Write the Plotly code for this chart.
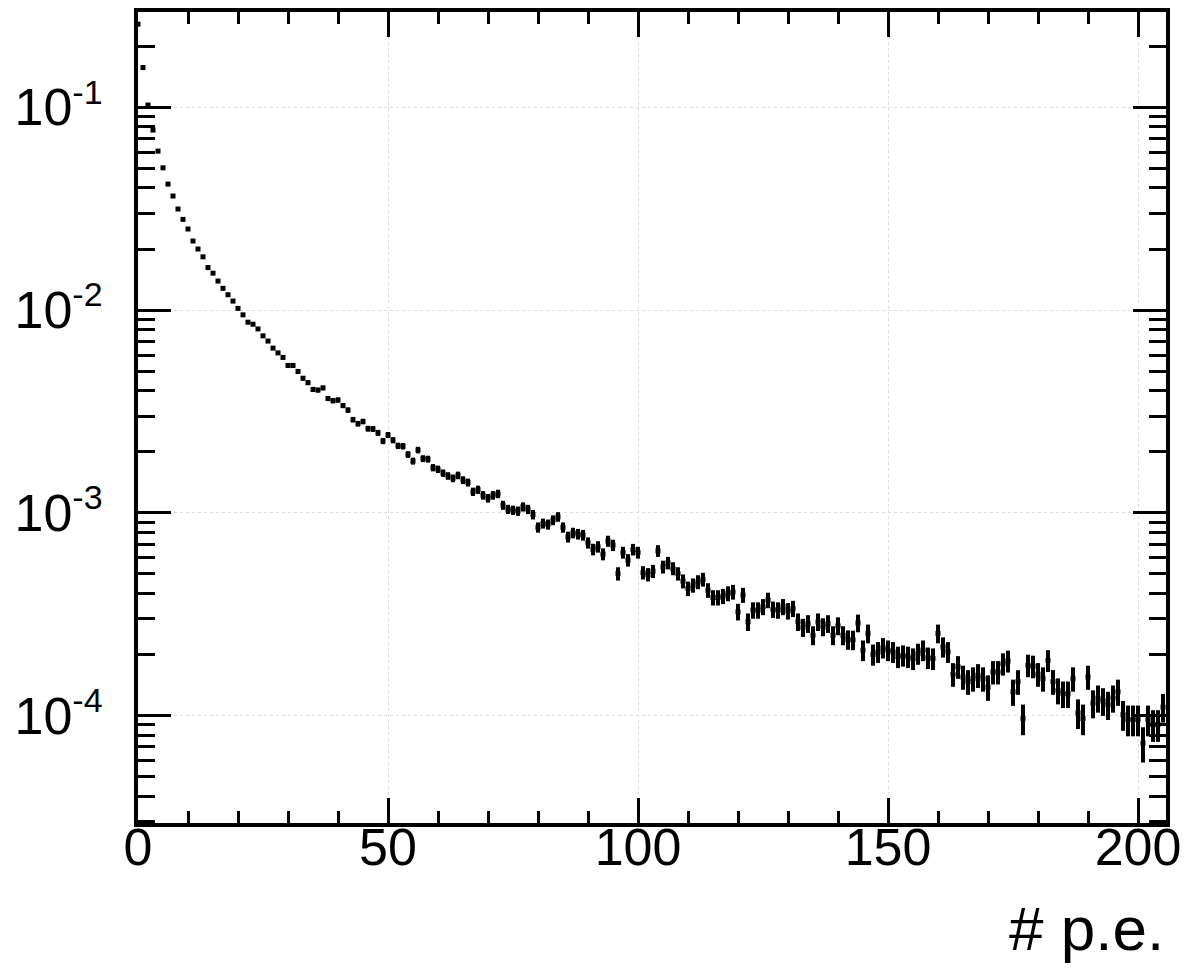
import numpy as np
import plotly.graph_objects as go

# Photo-electron spectrum, normalised histogram (bins of 1 p.e., centred on integers)
pe_bins = list(range(0, 206))
fraction = [
    0.257, 0.157, 0.1026, 0.0772, 0.0608, 0.0503, 0.0418, 0.0365, 0.0315, 0.0280,
    0.0251, 0.0219, 0.0200, 0.0183, 0.0162, 0.0152, 0.0139, 0.0128, 0.0119, 0.01107,
    0.01019, 0.00947, 0.00871, 0.00851, 0.00807, 0.00746, 0.00703, 0.00649, 0.00615, 0.00584,
    0.00533, 0.00533, 0.00498, 0.00461, 0.00438, 0.00406, 0.00403, 0.00413, 0.00366, 0.00357,
    0.00360, 0.00338, 0.00321, 0.00288, 0.00275, 0.00282, 0.00260, 0.00259, 0.00248, 0.00226,
    0.00242, 0.00228, 0.00214, 0.00213, 0.00194, 0.00180, 0.00204, 0.00185, 0.00184, 0.00167,
    0.00164, 0.00157, 0.00152, 0.00148, 0.00153, 0.00145, 0.00141, 0.00127, 0.00130, 0.00122,
    0.00118, 0.00122, 0.00124, 0.00109, 0.00104, 0.00103, 0.00102, 0.00107, 0.00104, 0.00098,
    0.000847, 0.000886, 0.000876, 0.000920, 0.000955, 0.000847, 0.000760, 0.000796, 0.000785, 0.000776,
    0.000711, 0.000660, 0.000680, 0.000625, 0.000725, 0.000692, 0.000501, 0.000637, 0.000584, 0.000659,
    0.000637, 0.000507, 0.000496, 0.000515, 0.000649, 0.000541, 0.000566, 0.000531, 0.000501, 0.000460,
    0.000423, 0.000439, 0.000456, 0.000469, 0.000415, 0.000382, 0.000382, 0.000388, 0.000400, 0.000407,
    0.000325, 0.000393, 0.000290, 0.000331, 0.000331, 0.000344, 0.000371, 0.000334, 0.000331, 0.000344,
    0.000328, 0.000337, 0.000290, 0.000272, 0.000284, 0.000249, 0.000290, 0.000274, 0.000284, 0.000249,
    0.000277, 0.000249, 0.000237, 0.000236, 0.000286, 0.000210, 0.000254, 0.000200, 0.000206, 0.000216,
    0.000210, 0.000206, 0.000195, 0.000198, 0.000195, 0.000191, 0.000202, 0.000210, 0.000193, 0.000191,
    0.000254, 0.000218, 0.000206, 0.000160, 0.000174, 0.000155, 0.000147, 0.000152, 0.000158, 0.000152,
    0.000138, 0.000164, 0.000164, 0.000180, 0.000186, 0.000131, 0.000147, 0.0000966, 0.000177, 0.000175,
    0.000160, 0.000152, 0.000187, 0.000147, 0.000133, 0.000128, 0.000128, 0.000152, 0.000103, 0.0000966,
    0.000155, 0.000115, 0.000122, 0.000118, 0.000113, 0.000122, 0.000131, 0.000101, 0.0000955, 0.0000955,
    0.0000955, 0.0000731, 0.0000955, 0.0000902, 0.0000902, 0.000110,
]

# total number of entries used for the normalisation -> Poisson errors per bin
n_entries = 3.5e5
frac = np.array(fraction)
frac_err = np.sqrt(frac / n_entries)

x_ticks = [0, 50, 100, 150, 200]
y_ticks = [1e-4, 1e-3, 1e-2, 1e-1]
y_exponents = ["-4", "-3", "-2", "-1"]
y_ticktext = ['10<sup><span style="font-size:34px">%s</span></sup>' % e for e in y_exponents]

FONT = "Liberation Sans, Arial, Helvetica, sans-serif"
LABEL_SIZE = 52

fig = go.Figure()
fig.add_trace(go.Scatter(
    x=pe_bins, y=fraction, mode="markers",
    marker=dict(symbol="square", size=5, color="black", line=dict(width=0)),
    error_y=dict(type="data", array=frac_err, visible=True, width=0, thickness=4, color="black"),
    showlegend=False,
))

fig.update_layout(
    width=1184, height=968,
    margin=dict(l=138, r=18, t=12, b=145, pad=0),
    paper_bgcolor="white", plot_bgcolor="white",
    font=dict(family=FONT, size=LABEL_SIZE, color="black"),
    xaxis=dict(
        range=[0, 205.6], tickvals=x_ticks, ticktext=[str(v) for v in x_ticks],
        showline=True, linewidth=4, linecolor="black", mirror="allticks",
        ticks="inside", ticklen=25, tickwidth=3, tickcolor="black",
        minor=dict(dtick=10, tick0=0, ticks="inside", ticklen=12, tickwidth=3, tickcolor="black", showgrid=False),
        showgrid=True, gridcolor="#dddddd", griddash="dot", gridwidth=1,
        zeroline=False, automargin=False, ticklabelstandoff=-24,
        tickfont=dict(family=FONT, size=LABEL_SIZE),
    ),
    yaxis=dict(
        type="log", range=[-4.53, -0.53], tickvals=y_ticks, ticktext=y_ticktext,
        showline=True, linewidth=4, linecolor="black", mirror="allticks",
        ticks="inside", ticklen=33, tickwidth=3, tickcolor="black",
        minor=dict(dtick="D1", ticks="inside", ticklen=17, tickwidth=3, tickcolor="black", showgrid=False),
        showgrid=True, gridcolor="#dddddd", griddash="dot", gridwidth=1,
        zeroline=False, automargin=False, ticklabelstandoff=21,
        tickfont=dict(family=FONT, size=LABEL_SIZE),
    ),
    annotations=[dict(
        text="# p.e.", xref="paper", yref="paper", x=1.0, y=-0.130,
        xanchor="right", yanchor="middle", showarrow=False,
        font=dict(family=FONT, size=62, color="black"),
    )],
)

fig.write_html("out.html")
